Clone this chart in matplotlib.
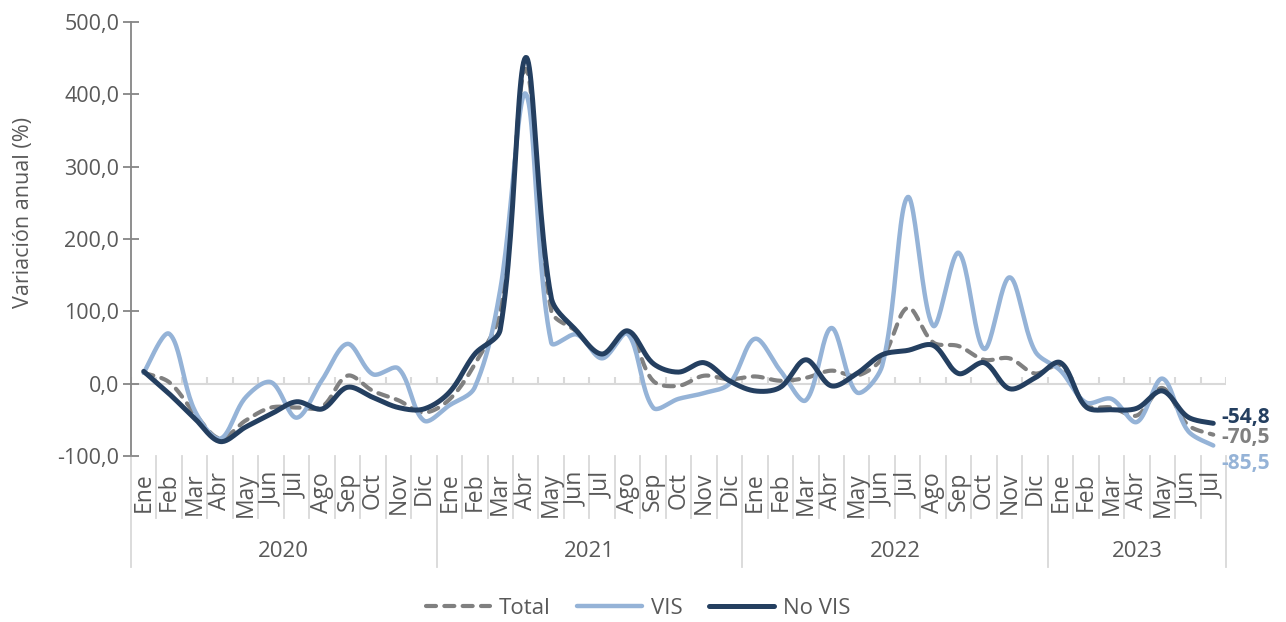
import matplotlib.pyplot as plt
import numpy as np

plt.rcParams['font.family'] = ['Open Sans', 'DejaVu Sans']

years = ['2020', '2021', '2022', '2023']
meses = ['Ene', 'Feb', 'Mar', 'Abr', 'May', 'Jun', 'Jul', 'Ago', 'Sep', 'Oct', 'Nov', 'Dic']
months_per_year = [12, 12, 12, 7]

total = [15, 2, -41, -76, -51, -33, -33, -32, 11, -10, -23, -40,
         -22, 27, 100, 435, 101, 72, 38, 71, 4, -3, 11, 6,
         10, 4, 8, 18, 11, 35, 105, 57, 52, 33, 35, 14,
         25, -30, -33, -44, -6, -57, -70.5]
vis = [15, 69, -37, -76, -19, 2, -47, 5, 55, 13, 21, -51,
       -30, -5, 130, 401, 57, 68, 35, 69, -33, -21, -13, 0,
       62, 18, -23, 77, -12, 25, 258, 80, 181, 48, 147, 45,
       18, -26, -21, -53, 7, -65, -85.5]
novis = [17, -14, -48, -80, -60, -42, -25, -35, -5, -19, -33, -35,
         -12, 41, 75, 451, 119, 73, 41, 73, 28, 16, 29, 4,
         -10, -5, 33, -3, 14, 40, 46, 53, 14, 29, -7, 8,
         29, -32, -36, -34, -10, -46, -54.8]
end_labels = ['-54,8', '-70,5', '-85,5']

c_total = '#808080'
c_vis = '#95b3d7'
c_novis = '#243f60'
c_text = '#595959'

# pixel size of one category / one y unit, used for the smoothing
sx, sy = 25.47, 0.7233


def smooth(y, n=24):
    # excel-like smoothed line: bezier segments, control arms scaled by segment lengths
    y = np.asarray(y, dtype=float)
    x = np.arange(len(y), dtype=float)
    P = np.column_stack([x * sx, y * sy])
    P = np.vstack([P[0], P, P[-1]])
    out = []
    for i in range(len(y) - 1):
        p0, p1, p2, p3 = P[i], P[i + 1], P[i + 2], P[i + 3]
        d01 = np.hypot(*(p1 - p0))
        d12 = np.hypot(*(p2 - p1))
        d23 = np.hypot(*(p3 - p2))
        f1 = d12 / (d01 + d12) / 3 if d01 > 0 else 1 / 6
        f2 = d12 / (d12 + d23) / 3 if d23 > 0 else 1 / 6
        c1 = p1 + (p2 - p0) * f1
        c2 = p2 - (p3 - p1) * f2
        t = np.linspace(0, 1, n, endpoint=(i == len(y) - 2))[:, None]
        seg = (1 - t) ** 3 * p1 + 3 * t * (1 - t) ** 2 * c1 + 3 * t ** 2 * (1 - t) * c2 + t ** 3 * p2
        out.append(seg)
    out = np.vstack(out)
    return out[:, 0] / sx, out[:, 1] / sy


fig = plt.figure(figsize=(12.86, 6.22), dpi=100)
ax = fig.add_axes([131 / 1286, 1 - 456 / 622, (1226 - 131) / 1286, 434 / 622])

n = len(total)
ax.set_xlim(-0.5, n - 0.5)
ax.set_ylim(-100, 500)

# zero line with small ticks at category boundaries
ax.axhline(0, color='#d9d9d9', lw=1.5, zorder=1)
ax.vlines(np.arange(n + 1) - 0.5, 0, 9, color='#d9d9d9', lw=1.5, zorder=1)

x, y = smooth(total)
ax.plot(x, y, color=c_total, lw=3, dashes=(2.4, 2.0), dash_capstyle='round', label='Total', zorder=3)
x, y = smooth(vis)
ax.plot(x, y, color=c_vis, lw=3.2, solid_capstyle='round', label='VIS', zorder=4)
x, y = smooth(novis)
ax.plot(x, y, color=c_novis, lw=3.6, solid_capstyle='round', label='No VIS', zorder=5)

# end labels
for lab, ser, col, dy in zip(end_labels, [novis, total, vis], [c_novis, c_total, c_vis], [4.5, -2.4, -12.6]):
    ax.annotate(lab, (n - 1, ser[-1]), xytext=(6, dy), textcoords='offset points',
                color=col, fontsize=15, fontweight='bold', va='center', ha='left',
                annotation_clip=False)

# y axis
yt = np.arange(-100, 501, 100)
ax.set_yticks(yt)
ax.set_yticklabels([('%.1f' % v).replace('.', ',') for v in yt])
ax.tick_params(axis='y', direction='inout', length=11, width=1.3, color='#868686',
               labelsize=15.5, labelcolor=c_text, pad=3)
ax.set_ylabel('Variación anual (%)', fontsize=15.5, color=c_text)
ax.yaxis.set_label_coords(-0.089, 0.562)
for s in ['top', 'right', 'bottom']:
    ax.spines[s].set_visible(False)
ax.spines['left'].set_color('#868686')
ax.spines['left'].set_linewidth(1.3)
ax.set_xticks([])

# category axis below the plot
trans = ax.get_xaxis_transform()
k = 0
for yr, m in zip(years, months_per_year):
    for j in range(m):
        ax.text(k + j, -0.037, meses[j], rotation=90, ha='center', va='top',
                fontsize=16.5, color=c_text, transform=trans, clip_on=False)
        if j > 0:
            ax.plot([k + j - 0.5] * 2, [0, -0.142], color='#d9d9d9', lw=1.3,
                    transform=trans, clip_on=False)
    ax.plot([k - 0.5] * 2, [0, -0.256], color='#d9d9d9', lw=1.3, transform=trans, clip_on=False)
    ax.text(k + (m - 1) / 2, -0.221, yr, ha='center', va='center', fontsize=16,
            color=c_text, transform=trans, clip_on=False)
    k += m
ax.plot([k - 0.5] * 2, [0, -0.256], color='#d9d9d9', lw=1.3, transform=trans, clip_on=False)

leg = fig.legend(loc='center', bbox_to_anchor=(0.496, 0.022), ncol=3, frameon=False,
                 fontsize=16, handlelength=2.9, columnspacing=1.2, handletextpad=0.4)
for t in leg.get_texts():
    t.set_color(c_text)

fig.savefig('out.png', dpi=100)
